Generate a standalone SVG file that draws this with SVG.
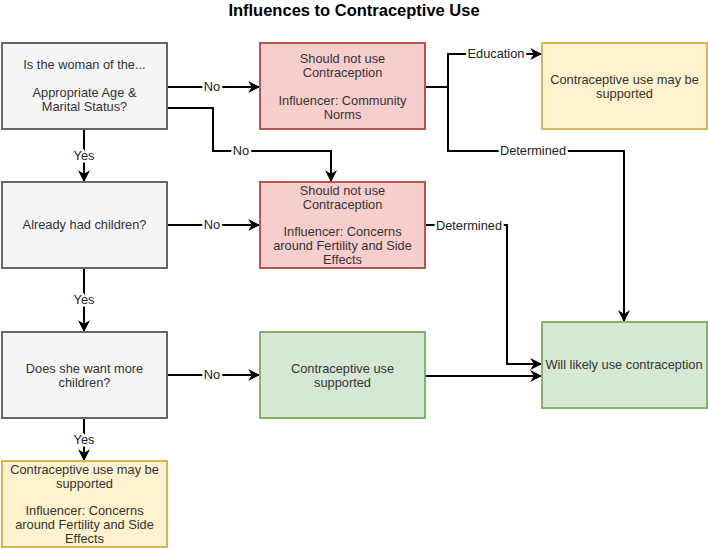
<svg xmlns="http://www.w3.org/2000/svg" width="708" height="549" viewBox="0 0 708 549">
<style>
text{font-family:"Liberation Sans",Arial,sans-serif;font-size:12.8px;fill:#333;text-anchor:middle}
.title{font-size:16.5px;font-weight:bold;fill:#000}
.grey{fill:#f5f5f5;stroke:#666;stroke-width:2}
.red{fill:#f8cecc;stroke:#b85450;stroke-width:2}
.yel{fill:#fff2cc;stroke:#d6b656;stroke-width:2}
.grn{fill:#d5e8d4;stroke:#82b366;stroke-width:2}
.e{fill:none;stroke:#000;stroke-width:2}
.ea{fill:none;stroke:#000;stroke-width:2;marker-end:url(#arr)}
.lbl{fill:#222;stroke:#fff;stroke-width:5;paint-order:stroke;stroke-linejoin:round}
</style>
<defs>
<marker id="arr" viewBox="0 0 10 10" refX="9" refY="5" markerWidth="6" markerHeight="6" markerUnits="strokeWidth" orient="auto">
<path d="M0,0 L10,5 L0,10 L3,5 Z" fill="#000"/>
</marker>
</defs>
<rect width="708" height="549" fill="#fff"/>
<text class="title" x="354" y="16">Influences to Contraceptive Use</text>

<g id="connectors">
<path class="ea" d="M167,87 H259"/>
<path class="ea" d="M167,108 H213 V151 H331 V181"/>
<path class="ea" d="M84,129 V181"/>
<path class="ea" d="M167,225 H259"/>
<path class="ea" d="M84,268 V331"/>
<path class="ea" d="M167,375 H259"/>
<path class="ea" d="M84,418 V460"/>
<path class="ea" d="M425,87 H448 V54 H541"/>
<path class="ea" d="M448,87 V151 H624 V321"/>
<path class="ea" d="M425,225 H507 V364 H541"/>
<path class="ea" d="M425,376 H541"/>
<text class="lbl" x="212" y="91">No</text>
<text class="lbl" x="241" y="155">No</text>
<text class="lbl" x="84" y="160">Yes</text>
<text class="lbl" x="212" y="229">No</text>
<text class="lbl" x="84" y="304">Yes</text>
<text class="lbl" x="212" y="379">No</text>
<text class="lbl" x="84" y="444">Yes</text>
<text class="lbl" x="496" y="58">Education</text>
<text class="lbl" x="533" y="155">Determined</text>
<text class="lbl" x="469" y="230">Determined</text>
</g>

<g id="q1">
<rect class="grey" x="2" y="43" width="165" height="86"/>
<text x="84.5" y="69">Is the woman of the...</text>
<text x="84.5" y="97">Appropriate Age &amp;</text>
<text x="84.5" y="111">Marital Status?</text>
</g>
<g id="red1">
<rect class="red" x="260" y="43" width="165" height="86"/>
<text x="342.5" y="63">Should not use</text>
<text x="342.5" y="77">Contraception</text>
<text x="342.5" y="105">Influencer: Community</text>
<text x="342.5" y="119">Norms</text>
</g>
<g id="yel1">
<rect class="yel" x="542" y="43" width="165" height="86"/>
<text x="624.5" y="84">Contraceptive use may be</text>
<text x="624.5" y="98">supported</text>
</g>
<g id="q2">
<rect class="grey" x="2" y="182" width="165" height="86"/>
<text x="84.5" y="229">Already had children?</text>
</g>
<g id="red2">
<rect class="red" x="260" y="182" width="165" height="86"/>
<text x="342.5" y="195">Should not use</text>
<text x="342.5" y="209">Contraception</text>
<text x="342.5" y="236">Influencer: Concerns</text>
<text x="342.5" y="250">around Fertility and Side</text>
<text x="342.5" y="264">Effects</text>
</g>
<g id="q3">
<rect class="grey" x="2" y="332" width="165" height="86"/>
<text x="84.5" y="373">Does she want more</text>
<text x="84.5" y="387">children?</text>
</g>
<g id="grn1">
<rect class="grn" x="260" y="332" width="165" height="86"/>
<text x="342.5" y="373">Contraceptive use</text>
<text x="342.5" y="387">supported</text>
</g>
<g id="grn2">
<rect class="grn" x="542" y="322" width="165" height="86"/>
<text x="624" y="369">Will likely use contraception</text>
</g>
<g id="yel2">
<rect class="yel" x="2" y="461" width="165" height="86"/>
<text x="84.5" y="474">Contraceptive use may be</text>
<text x="84.5" y="488">supported</text>
<text x="84.5" y="515">Influencer: Concerns</text>
<text x="84.5" y="529">around Fertility and Side</text>
<text x="84.5" y="543">Effects</text>
</g>
</svg>
